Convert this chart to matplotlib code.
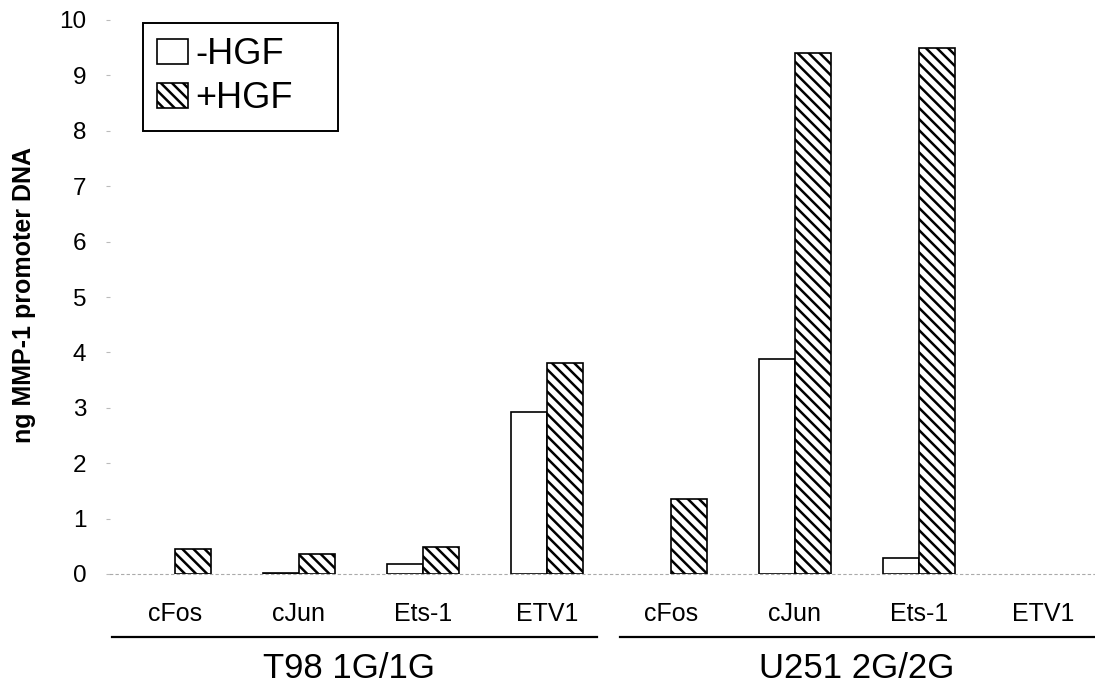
import numpy as np
import matplotlib
matplotlib.use("Agg")
import matplotlib.pyplot as plt
from matplotlib.patches import Patch
import matplotlib.transforms as mtransforms

plt.rcParams['font.family'] = ['Liberation Sans', 'DejaVu Sans']
plt.rcParams['hatch.linewidth'] = 1.8

# data
categories = ["cFos", "cJun", "Ets-1", "ETV1", "cFos", "cJun", "Ets-1", "ETV1"]
groups = ["T98 1G/1G", "U251 2G/2G"]
minus_hgf = [0.0, 0.02, 0.18, 2.93, 0.0, 3.88, 0.28, 0.0]
plus_hgf = [0.45, 0.37, 0.48, 3.80, 1.35, 9.40, 9.50, 0.0]

fig = plt.figure(figsize=(10.95, 6.9), dpi=100)
ax = fig.add_axes([110 / 1095, 116 / 690, 985 / 1095, 554 / 690])

x = np.arange(len(categories))
w = 0.29
lw_m = [1.2 if v > 0 else 0 for v in minus_hgf]
lw_p = [1.2 if v > 0 else 0 for v in plus_hgf]
ax.bar(x - w / 2, minus_hgf, w, color="white", edgecolor="black", linewidth=lw_m)
ax.bar(x + w / 2, plus_hgf, w, color="white", edgecolor="black", linewidth=lw_p,
       hatch="\\\\\\")

ax.set_xlim(-0.524, 7.42)
ax.set_ylim(0, 10)
ax.set_yticks(range(0, 11))
ax.tick_params(axis="y", length=3, color="#bbbbbb", width=0.8, pad=14, labelsize=17.5)
ax.set_xticks(x)
ax.set_xticklabels(categories, fontsize=18)
ax.tick_params(axis="x", length=0, pad=20)

for s in ["top", "right", "left"]:
    ax.spines[s].set_visible(False)
ax.spines["bottom"].set_color("#aaaaaa")
ax.spines["bottom"].set_linestyle((0, (2, 3)))
ax.spines["bottom"].set_linewidth(0.8)

ax.set_ylabel("ng MMP-1 promoter DNA", fontsize=18, fontweight="bold")
ax.yaxis.set_label_coords(-0.075, 0.504)

# group brackets under the category labels
trans = mtransforms.blended_transform_factory(ax.transData, ax.transAxes)
spans = [(-0.51, 3.40), (3.59, 7.42)]
label_x = [1.4, 5.5]
for (a, b), name, lx in zip(spans, groups, label_x):
    ax.plot([a, b], [-0.114, -0.114], color="black", lw=1.6, transform=trans,
            clip_on=False)
    ax.text(lx, -0.17, name, transform=trans, ha="center", va="center", fontsize=25)

handles = [Patch(facecolor="white", edgecolor="black", linewidth=1.2, label="-HGF"),
           Patch(facecolor="white", edgecolor="black", linewidth=1.2, hatch="\\\\\\",
                 label="+HGF")]
leg = ax.legend(handles=handles, loc="upper left",
                bbox_to_anchor=(0.0335, 0.805, 0.198, 0.19), mode="expand",
                borderaxespad=0, fontsize=26, handlelength=0.85, handleheight=0.7,
                handletextpad=0.2, labelspacing=0.25, borderpad=0.4,
                fancybox=False, framealpha=1)
leg.get_frame().set_edgecolor("black")
leg.get_frame().set_linewidth(1.4)

fig.savefig("out.png", dpi=100)
